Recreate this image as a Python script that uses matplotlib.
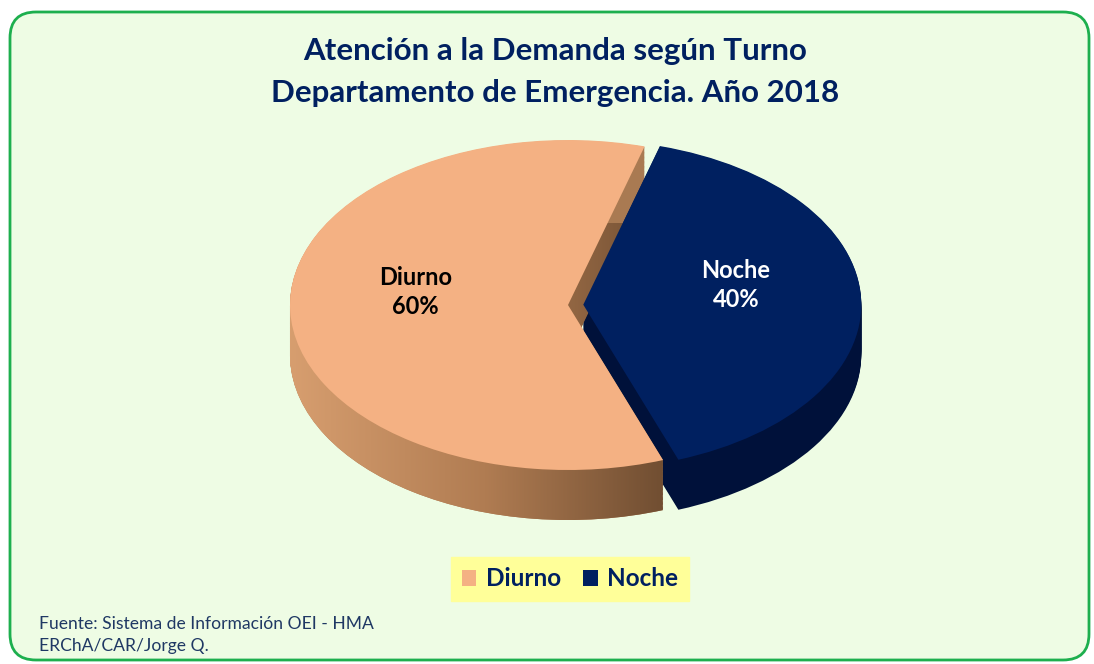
import matplotlib
matplotlib.use('Agg')
import matplotlib.pyplot as plt
from matplotlib.patches import FancyBboxPatch, Patch
from matplotlib.path import Path
from matplotlib.colors import LinearSegmentedColormap
import numpy as np

# data
labels = ["Diurno", "Noche"]
values = [60, 40]
top_colors = ["#F4B183", "#002060"]
side_colors = ["#A97A52", "#00113A"]
label_colors = ["black", "white"]
explode = [0.0, 0.055]
title = "Atención a la Demanda según Turno\nDepartamento de Emergencia. Año 2018"
source = "Fuente: Sistema de Información OEI - HMA\nERChA/CAR/Jorge Q."

W, H = 1094, 664
fig = plt.figure(figsize=(W / 100, H / 100), dpi=100)
fig.patch.set_facecolor("white")

# background panel in pixel coords
bg = fig.add_axes([0, 0, 1, 1])
bg.set_xlim(0, W)
bg.set_ylim(H, 0)
bg.axis("off")
bg.add_patch(FancyBboxPatch((10, 12), 1079, 648, boxstyle="round,pad=0,rounding_size=26",
                            facecolor="#EEFCE4", edgecolor="#1DAF4E", linewidth=2))

# pie axes: squashed so the circle becomes an ellipse
cx, cy, rx, ry = 568, 305, 278, 165
left_px, right_px, top_px, bot_px = 270, 880, 100, 560
ax = fig.add_axes([left_px / W, 1 - bot_px / H, (right_px - left_px) / W, (bot_px - top_px) / H])

depth = 50 / ry
start = 74
diurno_sides = []
for d in np.linspace(depth, 0.004, 40):
    ws, _ = ax.pie(values, colors=side_colors, explode=explode, startangle=start,
                   center=(0, -d), radius=1, wedgeprops=dict(linewidth=0, zorder=1), frame=True)
    diurno_sides.append(ws[0])
wedges, _ = ax.pie(values, colors=top_colors, explode=explode, startangle=start,
                   center=(0, 0), radius=1, wedgeprops=dict(linewidth=0, zorder=2), frame=True)

# horizontal shading on the Diurno side wall
shade = LinearSegmentedColormap.from_list("shade", ["#D79E6F", "#B07C52", "#6B4A2F"])
grad = np.linspace(0, 1, 256).reshape(1, -1)
im = ax.imshow(grad, cmap=shade, extent=[-1.0, 0.4, -1.5, 0.5], aspect="auto", zorder=1.5)
clip = Path.make_compound_path(*[w.get_path() for w in diurno_sides])
im.set_clip_path(clip, ax.transData)

ax.set_aspect("auto")
ax.set_xlim((left_px - cx) / rx, (right_px - cx) / rx)
ax.set_ylim((cy - bot_px) / ry, (cy - top_px) / ry)
ax.axis("off")

for w, lab, v, c in zip(wedges, labels, values, label_colors):
    mid = np.deg2rad((w.theta1 + w.theta2) / 2)
    r = 0.55
    x = w.center[0] + r * np.cos(mid)
    y = w.center[1] + r * np.sin(mid) + 0.1
    ax.text(x, y, f"{lab}\n{v}%", ha="center", va="center", fontsize=17,
            fontweight="bold", color=c, family="Lato", linespacing=1.3, zorder=3)

fig.text(555 / W, 1 - 72 / H, title, ha="center", va="center", fontsize=22.5,
         fontweight="bold", color="#002060", family="Lato", linespacing=1.6)

handles = [Patch(facecolor=c, edgecolor="none") for c in top_colors]
leg = fig.legend(handles, labels, loc="center", bbox_to_anchor=(570 / W, 1 - 579 / H), ncol=2,
                 frameon=True, fancybox=False, facecolor="#FFFF99", edgecolor="#FFFF99",
                 framealpha=1, handlelength=0.6, handleheight=0.6, handletextpad=0.4,
                 columnspacing=0.9, borderpad=0.45, borderaxespad=0,
                 prop=dict(family="Lato", weight="bold", size=17.5))
for t in leg.get_texts():
    t.set_color("#002060")

fig.text(39 / W, 1 - 635 / H, source, ha="left", va="center", fontsize=12.6,
         color="#1F3864", family="Lato", linespacing=1.4)

plt.savefig("out.png", dpi=100, facecolor=fig.get_facecolor())
